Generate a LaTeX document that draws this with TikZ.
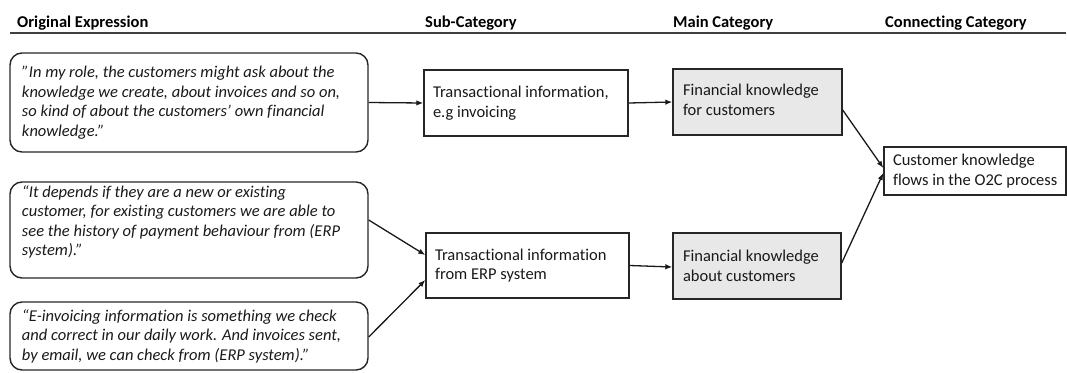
\documentclass[tikz,border=0pt]{standalone}
\usepackage{fontspec}
\setmainfont{Carlito}[Ligatures=NoCommon]
\usetikzlibrary{arrows.meta,calc}
\newcommand{\boxtext}[5]{\parbox[c][#2][c]{#1}{\raggedright\leftskip=#3\relax\parindent=0pt #4\par\vspace*{#5}}}
\begin{document}
\begin{tikzpicture}[x=1bp,y=-1bp,
  header/.style={font=\fontsize{16.5bp}{19bp}\selectfont\bfseries, inner sep=0, anchor=base west, text=black},
  quotebox/.style={draw=black!85, line width=1.4bp, rounded corners=12bp, inner sep=0,
    font=\fontsize{16.5bp}{19.5bp}\selectfont\itshape, text=black!90},
  subbox/.style={draw=black!85, line width=1.4bp, inner sep=0, fill=white,
    font=\fontsize{16.5bp}{19.5bp}\selectfont, text=black!90},
  mainbox/.style={subbox, fill=gray!18},
  flow/.style={line width=1.3bp, draw=black!90, -{Latex[length=7bp,width=5.5bp]}}
]
\useasboundingbox (0,0) rectangle (1067,372);

% headers
\node[header] (h1) at (17,27) {Original Expression};
\node[header] (h2) at (425,27) {Sub-Category};
\node[header] (h3) at (673,27) {Main Category};
\node[header] (h4) at (885,27) {Connecting Category};
\coordinate (rl) at (10,33);
\coordinate (rr) at (1066,33);
\draw[line width=2bp, draw=black!75] (rl) -- (rr);

% quote boxes
\node[quotebox] (q1) at (189,102.5) {\boxtext{358bp}{99bp}{12bp}{%
”In my role, the customers might ask about the\\
knowledge we create, about invoices and so on,\\
so kind of about the customers’ own financial\\
knowledge.”}{0bp}};
\node[quotebox] (q2) at (189,230) {\boxtext{358bp}{96bp}{12bp}{%
“It depends if they are a new or existing\\
customer, for existing customers we are able to\\
see the history of payment behaviour from (ERP\\
system).”}{16bp}};
\node[quotebox] (q3) at (189,336) {\boxtext{358bp}{68bp}{12bp}{%
“E-invoicing information is something we check\\
and correct in our daily work. And invoices sent,\\
by email, we can check from (ERP system).”}{0bp}};

% sub-category
\node[subbox] (s1) at (526,103) {\boxtext{204bp}{66bp}{9bp}{Transactional information,\\ e.g invoicing}{0bp}};
\node[subbox] (s2) at (527.5,265.5) {\boxtext{203bp}{65bp}{9bp}{Transactional information\\ from ERP system}{0bp}};

% main category
\node[mainbox] (m1) at (757.5,102) {\boxtext{169bp}{66bp}{10bp}{Financial knowledge\\ for customers}{4bp}};
\node[mainbox] (m2) at (757,266) {\boxtext{168bp}{66bp}{10bp}{Financial knowledge\\ about customers}{0bp}};

% connecting category
\node[subbox] (c) at (975,171) {\boxtext{182bp}{48bp}{9bp}{Customer knowledge\\ flows in the O2C process}{0bp}};

% connectors
\draw[flow] (q1.east) -- (s1.west);
\draw[flow] ([yshift=10bp]q2.east) -- ([yshift=10.5bp]s2.west);
\draw[flow] ([yshift=-1bp]q3.east) -- ([yshift=-14.5bp]s2.west);
\draw[flow] (s1.east) -- (m1.west);
\draw[flow] (s2.east) -- ([yshift=-1bp]m2.west);
\draw[flow] ([yshift=-8bp]m1.east) -- ([yshift=3bp]c.west);
\draw[flow] ([yshift=3bp]m2.east) -- ([yshift=-2bp]c.west);
\end{tikzpicture}
\end{document}
